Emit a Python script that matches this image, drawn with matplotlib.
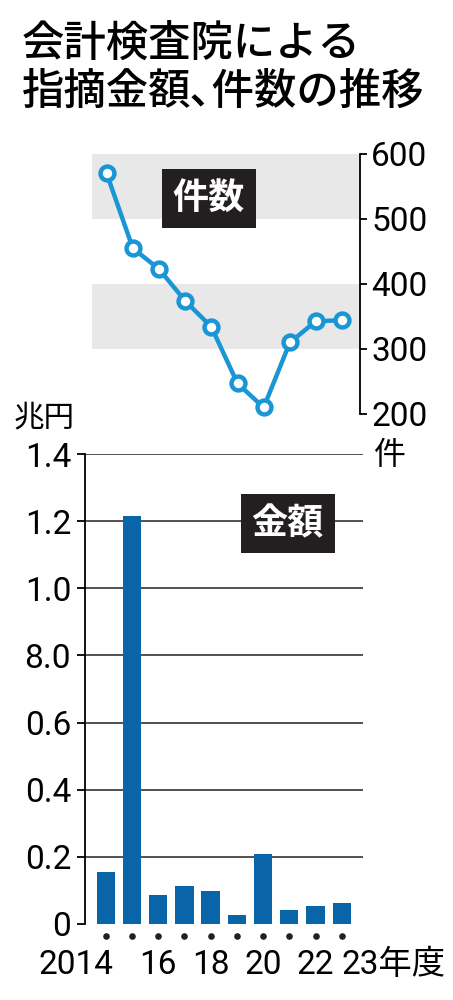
import numpy as np
import matplotlib
matplotlib.use("Agg")
import matplotlib.pyplot as plt

# data
years = [2014, 2015, 2016, 2017, 2018, 2019, 2020, 2021, 2022, 2023]
counts = [570, 455, 423, 374, 334, 247, 210, 310, 343, 344]          # 件
amounts = [0.155, 1.215, 0.085, 0.114, 0.098, 0.027, 0.21, 0.043, 0.055, 0.063]  # 兆円
count_ticks = [200, 300, 400, 500, 600]
amount_ticks = [0, 0.2, 0.4, 0.6, 0.8, 1.0, 1.2, 1.4]
amount_labels = ["0", "0.2", "0.4", "0.6", "8.0", "1.0", "1.2", "1.4"]
year_labels = {2014: "2014", 2016: "16", 2018: "18", 2020: "20", 2022: "22", 2023: "23年度"}

NUM = ["Roboto", "Noto Sans CJK JP"]
JP = ["Noto Sans CJK JP", "DejaVu Sans"]
LINE_C = "#1a96d4"
BAR_C = "#0a64a8"
BAND_C = "#e8e8e8"

W, H = 453, 1000
fig = plt.figure(figsize=(W / 100, H / 100), dpi=100)


def box(l, t, r, b):
    return [l / W, 1 - b / H, (r - l) / W, (b - t) / H]


# title
fig.text(22 / W, 1 - 43 / H, "会計検査院による", family=JP, fontsize=30.5,
         weight="medium", va="center", ha="left")
fig.text(22 / W, 1 - 91 / H, "指摘金額\uff64件数の推移", family=JP, fontsize=30.5,
         weight="medium", va="center", ha="left")

# top: count line
ax1 = fig.add_axes(box(92, 154, 360, 414))
ax1.set_xlim(2013.44, 2023.68)
ax1.set_ylim(200, 600)
ax1.axhspan(300, 400, color=BAND_C, lw=0, zorder=0)
ax1.axhspan(500, 600, color=BAND_C, lw=0, zorder=0)
ax1.plot(years, counts, color=LINE_C, lw=3.2, marker="o", ms=10,
         mfc="white", mec=LINE_C, mew=3.2, clip_on=False, zorder=3)
for s in ["left", "top", "bottom"]:
    ax1.spines[s].set_visible(False)
ax1.spines["right"].set_linewidth(1.3)
ax1.set_xticks([])
ax1.yaxis.tick_right()
ax1.set_yticks(count_ticks)
ax1.set_yticklabels([str(v) for v in count_ticks])
ax1.tick_params(axis="y", direction="out", length=5, width=1.3, pad=3)
for lb in ax1.get_yticklabels():
    lb.set_family(NUM)
    lb.set_fontsize(24)
ax1.text(2017.91, 532, "件数", family=JP, fontsize=26, weight="bold",
         color="white", ha="center", va="center",
         bbox=dict(boxstyle="square,pad=0.3", fc="#231f20", ec="none"))
fig.text(390 / W, 1 - 455 / H, "件", family=JP, fontsize=23,
         ha="center", va="center")

# bottom: amount bars
ax2 = fig.add_axes(box(85, 454, 363, 924))
ax2.set_xlim(2013.21, 2023.81)
ax2.set_ylim(0, 1.4)
for v in amount_ticks[1:]:
    ax2.axhline(v, color="#222222", lw=1.1, zorder=1)
ax2.bar(years, amounts, width=0.7, color=BAR_C, zorder=2)
for s in ["right", "top", "bottom"]:
    ax2.spines[s].set_visible(False)
ax2.spines["left"].set_linewidth(1.3)
ax2.set_xticks([])
ax2.set_yticks(amount_ticks)
ax2.set_yticklabels(amount_labels)
ax2.tick_params(axis="y", direction="out", length=6, width=1.3, pad=4)
for lb in ax2.get_yticklabels():
    lb.set_family(NUM)
    lb.set_fontsize(24)
ax2.scatter(years, [-0.035] * len(years), s=14, color="#231f20",
            clip_on=False, zorder=3)
for yr, lab in year_labels.items():
    if yr == 2014:
        ax2.text(yr + 0.3, -0.122, lab, family=NUM, fontsize=24,
                 ha="right", va="center")
    elif yr == 2023:
        ax2.text(yr, -0.122, lab, family=NUM, fontsize=24,
                 ha="left", va="center")
    else:
        ax2.text(yr, -0.122, lab, family=NUM, fontsize=24,
                 ha="center", va="center")
ax2.text(2020.94, 1.193, "金額", family=JP, fontsize=26, weight="bold",
         color="white", ha="center", va="center",
         bbox=dict(boxstyle="square,pad=0.3", fc="#231f20", ec="none"))
fig.text(44 / W, 1 - 418 / H, "兆円", family=JP, fontsize=22,
         ha="center", va="center")

fig.savefig("out.png", dpi=100)
